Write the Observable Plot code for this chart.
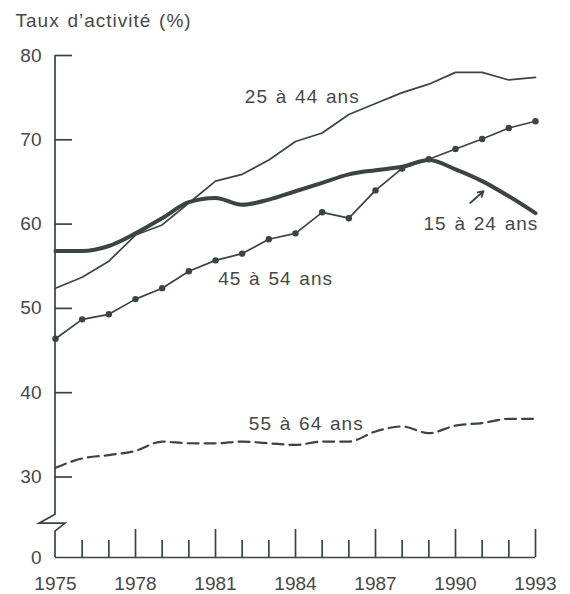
<!DOCTYPE html>
<html>
<head>
<meta charset="utf-8">
<script src="https://cdn.jsdelivr.net/npm/d3@7"></script>
<script src="https://cdn.jsdelivr.net/npm/@observablehq/plot@0.6"></script>
<style>
  html, body { margin: 0; padding: 0; background: #fff; }
  #chart svg { display: block; }
</style>
</head>
<body>
<div id="chart"></div>
<script>
// ---- data ----
const years = [1975, 1976, 1977, 1978, 1979, 1980, 1981, 1982, 1983, 1984, 1985, 1986, 1987, 1988, 1989, 1990, 1991, 1992, 1993];
const age15_24 = [56.8, 56.8, 57.4, 58.9, 60.7, 62.6, 63.1, 62.3, 62.9, 63.9, 64.9, 65.9, 66.4, 66.8, 67.6, 66.5, 65.1, 63.3, 61.3];
const age25_44 = [52.4, 53.7, 55.6, 58.7, 59.9, 62.5, 65.1, 65.9, 67.6, 69.8, 70.8, 73.0, 74.3, 75.6, 76.6, 78.0, 78.0, 77.1, 77.4];
const age45_54 = [46.4, 48.7, 49.3, 51.1, 52.4, 54.4, 55.7, 56.5, 58.2, 58.9, 61.4, 60.7, 64.0, 66.6, 67.7, 68.9, 70.1, 71.4, 72.2];
const age55_64 = [31.1, 32.2, 32.6, 33.1, 34.2, 34.0, 34.0, 34.2, 34.0, 33.8, 34.2, 34.2, 35.4, 36.0, 35.2, 36.1, 36.4, 36.9, 36.9];

const majorYears = [1978, 1981, 1984, 1987, 1990, 1993];
const minorYears = [1976, 1977, 1979, 1980, 1982, 1983, 1985, 1986, 1988, 1989, 1991, 1992];
const labelYears = [1975, 1978, 1981, 1984, 1987, 1990, 1993];
const yTicks = [30, 40, 50, 60, 70, 80];
const yLabels = [0, 30, 40, 50, 60, 70, 80];

const seriesNames = ["15 à 24 ans", "25 à 44 ans", "45 à 54 ans", "55 à 64 ans"];
const nameYear = [1988.8, 1982.1, 1981.1, 1982.25];
const nameValue = [60.0, 75.1, 53.5, 36.25];
const arrowYears = [1990.55, 1991.05];
const arrowValues = [62.5, 63.9];
const title = "Taux d’activité (%)";

// axis break: values below 30 are compressed into a short stub
const breakAt = 30;
const stub = 9.55; // height of the 0–30 stub, in units of the upper part
const brk = (v) => (v >= breakAt ? v : breakAt - (breakAt - v) * (stub / breakAt));

// ---- tables ----
const rows = (vals) => years.map((year, i) => ({year, value: vals[i]}));
const names = seriesNames.map((name, i) => ({name, year: nameYear[i], value: nameValue[i]}));
const arrowRow = [{x1: arrowYears[0], y1: arrowValues[0], x2: arrowYears[1], y2: arrowValues[1]}];

const ink = "#3a4440";
const textInk = "#474747";

// y axis line with break glyph (drawn relative to the scales and frame)
const axisLine = (index, scales, values, dimensions) => {
  const {x, y} = scales;
  const x0 = x(1975);
  const yTop = y(80), y30 = y(breakAt);
  const yBase = dimensions.height - dimensions.marginBottom;
  const yb = y30 + (yBase - y30) * 0.58;
  return d3.create("svg:path")
    .attr("fill", "none")
    .attr("stroke", ink)
    .attr("stroke-width", 1.7)
    .attr("d", `M${x0},${yTop}V${yb - 9}L${x0 - 16},${yb}H${x0 + 10}L${x0},${yb + 8}V${yBase}`)
    .node();
};

const chart = Plot.plot({
  width: 570,
  height: 594,
  marginLeft: 55,
  marginRight: 35,
  marginTop: 55,
  marginBottom: 37,
  style: {fontFamily: "'Liberation Sans', Arial, sans-serif", fontSize: "19px", color: textInk, background: "#fff"},
  x: {domain: [1975, 1993]},
  y: {domain: [brk(0), 80], transform: brk},
  marks: [
    Plot.ruleY([0], {stroke: ink, strokeWidth: 1.7}),
    axisLine,
    Plot.axisY({ticks: yTicks, tickSize: 17, dx: 17, tickFormat: () => "", label: null, stroke: ink, strokeWidth: 1.7}),
    Plot.text(yLabels, {x: 1975, y: (d) => d, text: (d) => String(d), textAnchor: "end", lineAnchor: "middle", dx: -14, fill: textInk, fontSize: 19}),
    Plot.axisX({ticks: minorYears, tickSize: 17, dy: -17, tickFormat: () => "", label: null, stroke: ink, strokeWidth: 1.7}),
    Plot.axisX({ticks: majorYears, tickSize: 28, dy: -28, tickFormat: () => "", label: null, stroke: ink, strokeWidth: 1.7}),
    Plot.axisX({ticks: labelYears, tickSize: 0, tickPadding: 19, tickFormat: (d) => String(d), label: null, fill: textInk}),

    Plot.line(rows(age55_64), {x: "year", y: "value", stroke: ink, strokeWidth: 2.2, strokeDasharray: "11,6", curve: "monotone-x"}),
    Plot.line(rows(age25_44), {x: "year", y: "value", stroke: ink, strokeWidth: 1.7}),
    Plot.line(rows(age45_54), {x: "year", y: "value", stroke: ink, strokeWidth: 1.7}),
    Plot.dot(rows(age45_54), {x: "year", y: "value", fill: ink, r: 3.2}),
    Plot.line(rows(age15_24), {x: "year", y: "value", stroke: ink, strokeWidth: 4, curve: "monotone-x", strokeLinecap: "round"}),

    Plot.text(names, {x: "year", y: "value", text: "name", textAnchor: "start", lineAnchor: "middle", fill: textInk, fontSize: 19}),
    Plot.arrow(arrowRow, {x1: "x1", y1: "y1", x2: "x2", y2: "y2", stroke: ink, strokeWidth: 1.8, headLength: 7}),
    Plot.text([title], {frameAnchor: "top-left", dx: -40, dy: -42, textAnchor: "start", lineAnchor: "top", fill: textInk, fontSize: 19})
  ]
});

// letter spacing for the annotation texts (series names and title)
d3.select(chart).selectAll("text").filter(function () {
  const t = this.textContent;
  return t === title || seriesNames.includes(t);
}).style("letter-spacing", "1px").style("word-spacing", "1.5px");

document.getElementById("chart").append(chart);
</script>
</body>
</html>
